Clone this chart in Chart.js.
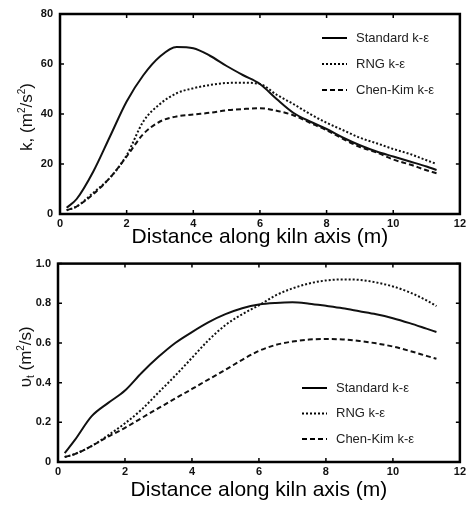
<!DOCTYPE html>
<html lang="en">
<head>
    <meta charset="UTF-8">
    <title>Kiln axis turbulence</title>
    <script src="https://cdn.jsdelivr.net/npm/chart.js"></script>
    <style>
        body { margin: 0; background: #fff; }
        canvas { position: absolute; left: 0; }
        #kChart { top: 0; }
        #nuChart { top: 250px; }
    </style>
</head>
<body>
    <canvas id="kChart" width="469" height="250"></canvas>
    <canvas id="nuChart" width="469" height="255"></canvas>

    <script>
        // distance along kiln axis (m), shared by every curve
        const dist = [0.2, 0.5, 1, 1.5, 2, 2.5, 3, 3.5, 4, 4.5, 5, 5.5, 6, 6.5, 7, 7.5, 8, 8.5, 9, 9.5, 10, 10.5, 11, 11.3];

        const seriesNames = ['Standard k-\u03b5', 'RNG k-\u03b5', 'Chen-Kim k-\u03b5'];

        // turbulent kinetic energy k (m2/s2)
        const kStandard = [2.5, 6, 17, 31, 45, 55.5, 63, 66.8, 66.3, 63.3, 59.2, 55.5, 52, 46, 40.5, 37, 34, 30.5, 27.5, 25, 23, 21, 19, 17.6];
        const kRng      = [1.5, 3, 8.5, 14.5, 23.5, 37, 44, 48.3, 50.3, 51.6, 52.4, 52.5, 52, 47.7, 44, 40, 36.5, 33.5, 30.5, 28.3, 26, 24, 21.5, 20];
        const kChenKim  = [1.5, 3, 8, 14.5, 23, 32, 37, 39, 39.8, 40.5, 41.5, 42, 42.3, 41.3, 39.5, 36.5, 33.5, 30, 26.8, 24.6, 21.8, 19.8, 17.5, 16.3];

        // turbulent viscosity nu_t (m2/s)
        const nuStandard = [0.045, 0.11, 0.23, 0.298, 0.36, 0.45, 0.53, 0.6, 0.655, 0.705, 0.745, 0.775, 0.794, 0.802, 0.805, 0.798, 0.787, 0.775, 0.76, 0.745, 0.725, 0.7, 0.672, 0.655];
        const nuRng      = [0.025, 0.04, 0.08, 0.135, 0.195, 0.265, 0.35, 0.435, 0.525, 0.615, 0.69, 0.745, 0.79, 0.84, 0.875, 0.9, 0.915, 0.92, 0.918, 0.905, 0.885, 0.855, 0.815, 0.786];
        const nuChenKim  = [0.025, 0.04, 0.08, 0.128, 0.172, 0.222, 0.271, 0.32, 0.368, 0.417, 0.465, 0.515, 0.56, 0.59, 0.607, 0.617, 0.62, 0.618, 0.61, 0.598, 0.582, 0.56, 0.535, 0.52];

        const lineStyles = [
            { borderDash: [] },
            { borderDash: [2, 2] },
            { borderDash: [5, 3] }
        ];

        const FONT = '"Liberation Sans", Arial, sans-serif';

        function makeDatasets(arrays) {
            return arrays.map((vals, i) => ({
                label: seriesNames[i],
                data: vals.map((v, j) => ({ x: dist[j], y: v })),
                borderColor: '#111',
                borderWidth: 2,
                borderDash: lineStyles[i].borderDash,
                pointRadius: 0,
                fill: false,
                cubicInterpolationMode: 'monotone'
            }));
        }

        // frame, inward ticks, in-plot legend and y title
        const framePlugin = {
            id: 'frame',
            afterDraw(chart, args, opts) {
                const ctx = chart.ctx;
                const a = chart.chartArea;
                const xs = chart.scales.x, ys = chart.scales.y;
                ctx.save();
                ctx.strokeStyle = '#000';
                ctx.lineWidth = 1.5;
                xs.ticks.forEach(t => {
                    const px = xs.getPixelForValue(t.value);
                    ctx.beginPath();
                    ctx.moveTo(px, a.bottom); ctx.lineTo(px, a.bottom - 4);
                    ctx.moveTo(px, a.top); ctx.lineTo(px, a.top + 4);
                    ctx.stroke();
                });
                ys.ticks.forEach(t => {
                    const py = ys.getPixelForValue(t.value);
                    ctx.beginPath();
                    ctx.moveTo(a.left, py); ctx.lineTo(a.left + 4, py);
                    ctx.moveTo(a.right, py); ctx.lineTo(a.right - 4, py);
                    ctx.stroke();
                });
                ctx.lineWidth = 2.5;
                ctx.strokeRect(a.left, a.top, a.right - a.left, a.bottom - a.top);

                // legend
                ctx.font = '13px ' + FONT;
                ctx.fillStyle = '#222';
                ctx.textBaseline = 'middle';
                chart.data.datasets.forEach((ds, i) => {
                    const y = opts.legendY + i * opts.legendGap;
                    ctx.beginPath();
                    ctx.lineWidth = 2;
                    ctx.setLineDash(ds.borderDash);
                    ctx.moveTo(opts.legendX, y);
                    ctx.lineTo(opts.legendX + 25, y);
                    ctx.stroke();
                    ctx.setLineDash([]);
                    ctx.fillText(ds.label, opts.legendX + 34, y);
                });

                // rotated y title made of pieces [text, size, shift]
                const parts = opts.yTitle;
                let total = 0;
                parts.forEach(p => {
                    ctx.font = p[1] + 'px ' + FONT;
                    total += ctx.measureText(p[0]).width;
                });
                ctx.translate(opts.yTitleX, (a.top + a.bottom) / 2 + opts.yTitleShift);
                ctx.rotate(-Math.PI / 2);
                ctx.fillStyle = '#111';
                ctx.textBaseline = 'alphabetic';
                let cx = -total / 2;
                parts.forEach(p => {
                    ctx.font = p[1] + 'px ' + FONT;
                    ctx.fillText(p[0], cx, 6 + p[2]);
                    cx += ctx.measureText(p[0]).width;
                });
                ctx.restore();
            }
        };

        function makeChart(id, arrays, yMax, yStep, yFmt, cfg) {
            const ctx = document.getElementById(id).getContext('2d');
            return new Chart(ctx, {
                type: 'line',
                data: { datasets: makeDatasets(arrays) },
                options: {
                    responsive: false,
                    animation: false,
                    layout: { padding: { top: cfg.top, right: 7, left: 0, bottom: 0 } },
                    plugins: {
                        legend: { display: false },
                        tooltip: { enabled: false },
                        frame: cfg.frame
                    },
                    scales: {
                        x: {
                            type: 'linear',
                            min: 0, max: 12,
                            grid: { display: false, drawTicks: false },
                            border: { display: false },
                            ticks: { stepSize: 2, padding: 3, color: '#111', font: { family: FONT, size: 11, weight: 'bold' } },
                            title: {
                                display: true,
                                text: 'Distance along kiln axis (m)',
                                color: '#000',
                                font: { family: FONT, size: 21 },
                                padding: { top: 0, bottom: cfg.titlePad }
                            },
                            afterFit: s => { s.height = cfg.xHeight; }
                        },
                        y: {
                            min: 0, max: yMax,
                            grid: { display: false, drawTicks: false },
                            border: { display: false },
                            ticks: { stepSize: yStep, padding: 7, color: '#111', font: { family: FONT, size: 11, weight: 'bold' }, callback: yFmt },
                            afterFit: s => { s.width = cfg.yWidth; }
                        }
                    }
                },
                plugins: [framePlugin]
            });
        }

        makeChart('kChart', [kStandard, kRng, kChenKim], 80, 20, v => String(v), {
            top: 14, xHeight: 36, yWidth: 60, titlePad: 0,
            frame: {
                legendX: 322, legendY: 38, legendGap: 26,
                yTitleX: 26, yTitleShift: 3,
                yTitle: [['k, (m', 17, 0], ['2', 10, -7], ['/s', 17, 0], ['2', 10, -7], [')', 17, 0]]
            }
        });

        makeChart('nuChart', [nuStandard, nuRng, nuChenKim], 1, 0.2, v => v === 0 ? '0' : v.toFixed(1), {
            top: 10, xHeight: 43, yWidth: 58, titlePad: 2,
            frame: {
                legendX: 302, legendY: 138, legendGap: 25.5,
                yTitleX: 25, yTitleShift: -6,
                yTitle: [['\u03c5', 17, 0], ['t', 10, 3], [' (m', 17, 0], ['2', 10, -7], ['/s)', 17, 0]]
            }
        });
    </script>
</body>
</html>
